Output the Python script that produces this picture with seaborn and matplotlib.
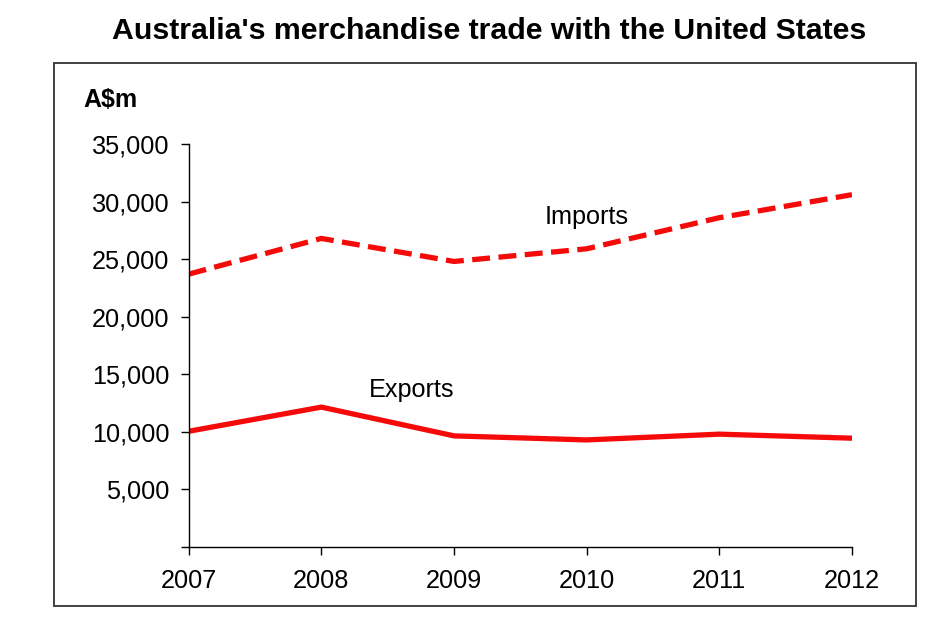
import numpy as np
import pandas as pd
import matplotlib
matplotlib.use("Agg")
import matplotlib.pyplot as plt
import seaborn as sns
from matplotlib.patches import Rectangle
from matplotlib.ticker import FuncFormatter

# --- data (A$m) ---
years = [2007, 2008, 2009, 2010, 2011, 2012]
imports = [23700, 26800, 24800, 25900, 28600, 30600]
exports = [10050, 12150, 9650, 9300, 9800, 9450]

df = pd.concat([
    pd.DataFrame({"year": years, "value": imports, "series": "Imports"}),
    pd.DataFrame({"year": years, "value": exports, "series": "Exports"}),
])

sns.set_theme(style="white", rc={"text.color": "black"})
plt.rcParams["font.family"] = ["Liberation Sans", "DejaVu Sans"]

fig = plt.figure(figsize=(9.53, 6.35), dpi=100)
ax = fig.add_axes([0.198, 0.1386, 0.696, 0.6346])

sns.lineplot(
    data=df, x="year", y="value", style="series", ax=ax,
    color="#f50a0a", linewidth=3.8, legend=False,
    dashes={"Imports": (3.4, 1.6), "Exports": ""},
    style_order=["Imports", "Exports"],
)

ax.set_xlim(2007, 2012)
ax.set_ylim(0, 35000)
ax.set_xticks(years)
ax.set_yticks(np.arange(0, 35001, 5000))
# zero tick is drawn but left unlabelled, as in the reference
ax.yaxis.set_major_formatter(FuncFormatter(lambda v, _: f"{v:,.0f}" if v > 0 else ""))
ax.set_xlabel("")
ax.set_ylabel("")
for s in ["top", "right"]:
    ax.spines[s].set_visible(False)
for s in ["left", "bottom"]:
    ax.spines[s].set_color("black")
    ax.spines[s].set_linewidth(1.0)
ax.tick_params(axis="both", which="major", direction="out", length=6, width=1,
               color="black", labelsize=18.2, labelcolor="black",
               left=True, bottom=True)
ax.tick_params(axis="y", pad=8)
ax.tick_params(axis="x", pad=10)

ax.text(2009.68, 28700, "Imports", fontsize=18.2, color="black", va="center")
ax.text(2008.36, 13650, "Exports", fontsize=18.2, color="black", va="center")

fig.text(0.087, 0.842, "A$m", fontsize=18, fontweight="bold", va="center")
fig.suptitle("Australia's merchandise trade with the United States",
             fontsize=21.8, fontweight="bold", y=0.951, va="center", x=0.513,
             color="black")

fig.patches.append(Rectangle((0.0567, 0.0457), 0.9045, 0.8551,
                             transform=fig.transFigure, fill=False,
                             edgecolor="#333333", linewidth=1.3))

fig.savefig("out.png", dpi=100)
